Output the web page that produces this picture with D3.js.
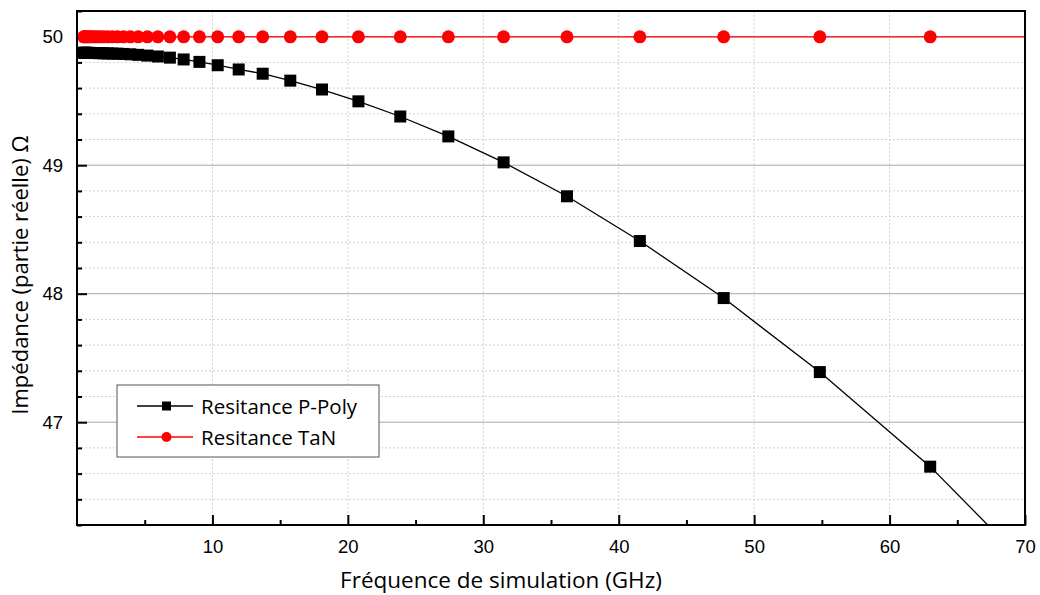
<!DOCTYPE html>
<html>
<head>
<meta charset="utf-8">
<script src="https://cdn.jsdelivr.net/npm/d3@7"></script>
<style>
  html, body { margin: 0; padding: 0; background: #fff; }
  svg { display: block; font-family: "Open Sans", "Noto Sans", sans-serif; }
</style>
</head>
<body>
<svg id="chart" width="1040" height="595"></svg>
<script>
// Frequencies (GHz) of the simulation points
const frequencies = [0.49, 0.565, 0.649, 0.746, 0.857, 0.984, 1.13, 1.30, 1.49, 1.71, 1.97, 2.26, 2.60, 2.98, 3.43, 3.94, 4.52, 5.20, 5.97, 6.86, 7.875, 9.04, 10.39, 11.94, 13.71, 15.75, 18.09, 20.78, 23.87, 27.42, 31.5, 36.18, 41.56, 47.75, 54.85, 63.0, 72.4];
// Real part of impedance (Ohm)
const pPoly = [49.875, 49.875, 49.875, 49.874, 49.874, 49.874, 49.873, 49.873, 49.873, 49.872, 49.871, 49.870, 49.869, 49.868, 49.866, 49.863, 49.859, 49.853, 49.846, 49.837, 49.823, 49.804, 49.778, 49.745, 49.712, 49.658, 49.589, 49.497, 49.379, 49.224, 49.022, 48.758, 48.41, 47.966, 47.39, 46.654, 45.65];
const taN = [49.999, 49.999, 49.999, 49.999, 49.999, 49.999, 49.999, 49.999, 49.999, 49.999, 49.999, 49.999, 49.999, 49.999, 49.999, 49.999, 49.999, 49.999, 49.999, 49.999, 49.999, 49.999, 49.999, 49.999, 49.999, 49.999, 49.999, 49.999, 49.999, 49.999, 49.999, 49.999, 49.999, 49.999, 49.999, 49.999, 49.999];
const seriesNames = ["Resitance P-Poly", "Resitance TaN"];
const xTicks = [10, 20, 30, 40, 50, 60, 70];
const yTicks = [47, 48, 49, 50];
const xLabel = "Fréquence de simulation (GHz)";
const yLabel = "Impédance (partie réelle) Ω";

const svg = d3.select("#chart");
const L = 77, R = 1025, T = 11, B = 525;
const x = d3.scaleLinear().domain([0, 70]).range([L, R]);
const y = d3.scaleLinear().domain([46.2, 50.2]).range([B, T]);

const defs = svg.append("defs");
defs.append("clipPath").attr("id", "clip")
  .append("rect").attr("x", L).attr("y", T).attr("width", R - L).attr("height", B - T);

// grid
const yMinor = d3.range(46.2, 50.21, 0.2).filter(v => Math.abs(v - Math.round(v)) > 0.01);
const g = svg.append("g");
g.selectAll(".ym").data(yMinor).enter().append("line")
  .attr("x1", L).attr("x2", R).attr("y1", d => y(d)).attr("y2", d => y(d))
  .attr("stroke", "#d0d0d0").attr("stroke-width", 1).attr("stroke-dasharray", "2,2");
g.selectAll(".xg").data(xTicks.slice(0, -1)).enter().append("line")
  .attr("y1", T).attr("y2", B).attr("x1", d => x(d)).attr("x2", d => x(d))
  .attr("stroke", "#d0d0d0").attr("stroke-width", 1).attr("stroke-dasharray", "2,2");
g.selectAll(".yg").data(yTicks).enter().append("line")
  .attr("x1", L).attr("x2", R).attr("y1", d => y(d)).attr("y2", d => y(d))
  .attr("stroke", "#a8a8a8").attr("stroke-width", 1);

// axes (ticks inward)
const xAxis = d3.axisBottom(x).tickValues(xTicks).tickSize(-10).tickPadding(15).tickFormat(d3.format("d"));
const xMinorAxis = d3.axisBottom(x).tickValues([5, 15, 25, 35, 45, 55, 65]).tickSize(-5).tickFormat("");
const yAxis = d3.axisLeft(y).tickValues(yTicks).tickSize(-10).tickPadding(14).tickFormat(d3.format("d"));
const yMinorAxis = d3.axisLeft(y).tickValues(yMinor).tickSize(-5).tickFormat("");

function styleAxis(sel) {
  sel.select(".domain").remove();
  sel.selectAll("line").attr("stroke", "#000").attr("stroke-width", 2);
  sel.selectAll("text").attr("font-size", 18.5).attr("fill", "#000");
}
svg.append("g").attr("transform", `translate(0,${B})`).call(xAxis).call(styleAxis);
svg.append("g").attr("transform", `translate(0,${B})`).call(xMinorAxis).call(styleAxis);
svg.append("g").attr("transform", `translate(${L},0)`).call(yAxis).call(styleAxis);
svg.append("g").attr("transform", `translate(${L},0)`).call(yMinorAxis).call(styleAxis);

// series
const plot = svg.append("g").attr("clip-path", "url(#clip)");
const lineGen = vals => d3.line().x((d, i) => x(frequencies[i])).y(d => y(d))(vals);

plot.append("path").attr("d", lineGen(taN)).attr("fill", "none").attr("stroke", "#ff0000").attr("stroke-width", 1.3);
plot.append("path").attr("d", lineGen(pPoly)).attr("fill", "none").attr("stroke", "#000").attr("stroke-width", 1.3);

plot.selectAll(".sq").data(pPoly).enter().append("rect")
  .attr("x", (d, i) => x(frequencies[i]) - 6).attr("y", d => y(d) - 6)
  .attr("width", 12).attr("height", 12).attr("fill", "#000");
plot.selectAll(".ci").data(taN).enter().append("circle")
  .attr("cx", (d, i) => x(frequencies[i])).attr("cy", d => y(d)).attr("r", 6.5)
  .attr("fill", "#ff0000");

// frame
svg.append("rect").attr("x", L).attr("y", T).attr("width", R - L).attr("height", B - T)
  .attr("fill", "none").attr("stroke", "#000").attr("stroke-width", 2);

// axis titles
svg.append("text").attr("x", 501).attr("y", 588).attr("text-anchor", "middle")
  .attr("font-size", 22.5).attr("fill", "#000").text(xLabel);
svg.append("text").attr("transform", `translate(28,275) rotate(-90)`).attr("text-anchor", "middle")
  .attr("font-size", 22).attr("fill", "#000").text(yLabel);

// legend
const lg = svg.append("g");
lg.append("rect").attr("x", 117).attr("y", 385).attr("width", 262).attr("height", 72)
  .attr("fill", "#fff").attr("stroke", "#555").attr("stroke-width", 1);
const legendColors = ["#000", "#ff0000"];
seriesNames.forEach((name, i) => {
  const cy = 406 + i * 31;
  lg.append("line").attr("x1", 137).attr("x2", 193).attr("y1", cy).attr("y2", cy)
    .attr("stroke", legendColors[i]).attr("stroke-width", 1.3);
  if (i === 0) {
    lg.append("rect").attr("x", 166.5 - 4.5).attr("y", cy - 4.5).attr("width", 9).attr("height", 9).attr("fill", "#000");
  } else {
    lg.append("circle").attr("cx", 166.5).attr("cy", cy).attr("r", 5).attr("fill", "#ff0000");
  }
  lg.append("text").attr("x", 201).attr("y", cy + 7.5).attr("font-size", 20.5).attr("fill", "#000").text(name);
});
</script>
</body>
</html>
